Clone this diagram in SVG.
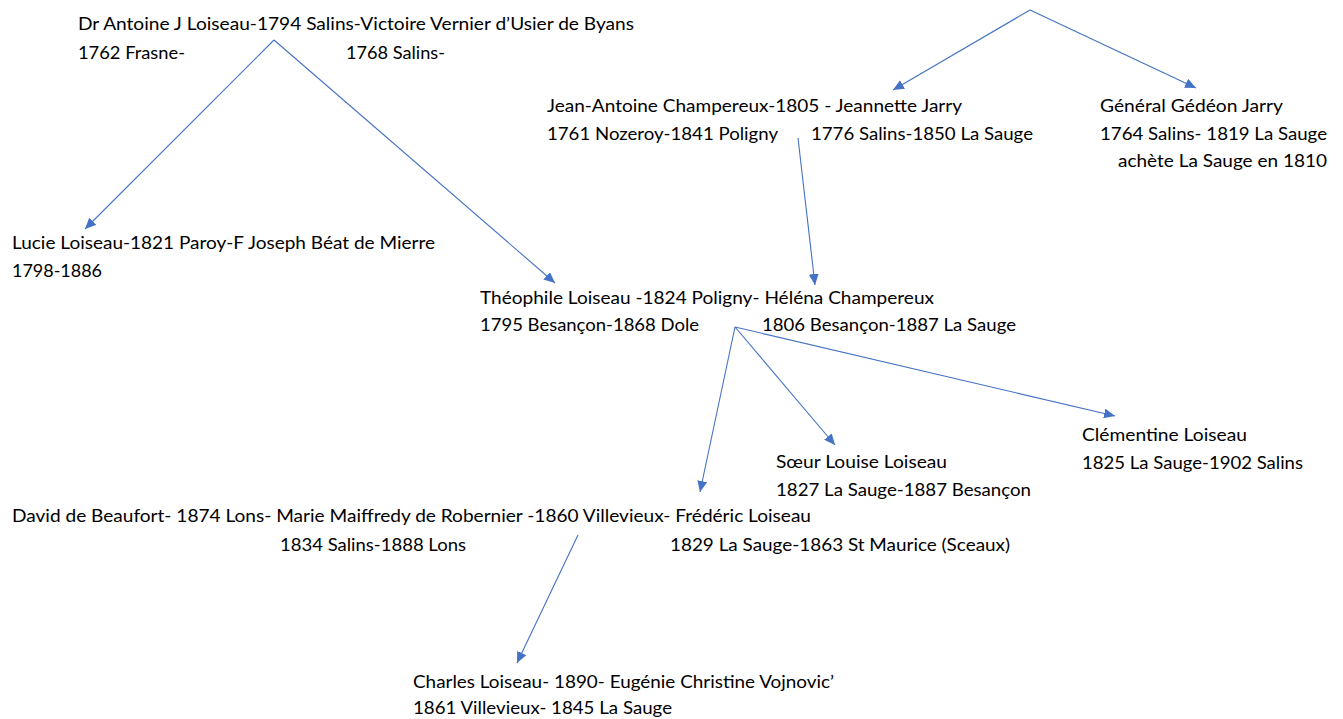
<svg xmlns="http://www.w3.org/2000/svg" width="1343" height="719" viewBox="0 0 1343 719">
<style>
text{font-family:"Lato","Liberation Sans",sans-serif;font-size:17px;fill:#000}
.c line{stroke:#4472C4;stroke-width:1.1;fill:none}
</style>
<defs>
<marker id="ah" markerUnits="userSpaceOnUse" markerWidth="12" markerHeight="10" refX="11" refY="5" orient="auto">
<path d="M0,0 L11,5 L0,10 Z" fill="#4472C4"/>
</marker>
</defs>
<rect width="1343" height="719" fill="#fff"/>
<g class="c">
<line x1="274" y1="40" x2="85" y2="229" marker-end="url(#ah)"/>
<line x1="274" y1="40" x2="555" y2="283" marker-end="url(#ah)"/>
<line x1="1030" y1="10" x2="893" y2="90" marker-end="url(#ah)"/>
<line x1="1030" y1="10" x2="1196" y2="88" marker-end="url(#ah)"/>
<line x1="798" y1="138" x2="815" y2="285" marker-end="url(#ah)"/>
<line x1="735" y1="327" x2="700" y2="492" marker-end="url(#ah)"/>
<line x1="735" y1="327" x2="835" y2="445" marker-end="url(#ah)"/>
<line x1="735" y1="327" x2="1115" y2="416" marker-end="url(#ah)"/>
<line x1="578" y1="535" x2="517" y2="663" marker-end="url(#ah)"/>
</g>
<g id="n-antoine">
<text x="78" y="30" textLength="556" lengthAdjust="spacingAndGlyphs">Dr Antoine J Loiseau-1794 Salins-Victoire Vernier d’Usier de Byans</text>
<text x="78" y="59" textLength="107" lengthAdjust="spacingAndGlyphs">1762 Frasne-</text>
<text x="346" y="59" textLength="99" lengthAdjust="spacingAndGlyphs">1768 Salins-</text>
</g>
<g id="n-champereux">
<text x="547" y="112" textLength="415" lengthAdjust="spacingAndGlyphs">Jean-Antoine Champereux-1805 - Jeannette Jarry</text>
<text x="547" y="140" textLength="231" lengthAdjust="spacingAndGlyphs">1761 Nozeroy-1841 Poligny</text>
<text x="811" y="140" textLength="222" lengthAdjust="spacingAndGlyphs">1776 Salins-1850 La Sauge</text>
</g>
<g id="n-gedeon">
<text x="1100" y="112" textLength="183" lengthAdjust="spacingAndGlyphs">Général Gédéon Jarry</text>
<text x="1100" y="140" textLength="227" lengthAdjust="spacingAndGlyphs">1764 Salins- 1819 La Sauge</text>
<text x="1118" y="167" textLength="209" lengthAdjust="spacingAndGlyphs">achète La Sauge en 1810</text>
</g>
<g id="n-lucie">
<text x="12" y="249" textLength="423" lengthAdjust="spacingAndGlyphs">Lucie Loiseau-1821 Paroy-F Joseph Béat de Mierre</text>
<text x="12" y="277" textLength="90" lengthAdjust="spacingAndGlyphs">1798-1886</text>
</g>
<g id="n-theophile">
<text x="480" y="304" textLength="454" lengthAdjust="spacingAndGlyphs">Théophile Loiseau -1824 Poligny- Héléna Champereux</text>
<text x="480" y="331" textLength="219" lengthAdjust="spacingAndGlyphs">1795 Besançon-1868 Dole</text>
<text x="762" y="331" textLength="254" lengthAdjust="spacingAndGlyphs">1806 Besançon-1887 La Sauge</text>
</g>
<g id="n-clementine">
<text x="1082" y="441" textLength="165" lengthAdjust="spacingAndGlyphs">Clémentine Loiseau</text>
<text x="1082" y="469" textLength="221" lengthAdjust="spacingAndGlyphs">1825 La Sauge-1902 Salins</text>
</g>
<g id="n-louise">
<text x="776" y="468" textLength="171" lengthAdjust="spacingAndGlyphs">Sœur Louise Loiseau</text>
<text x="776" y="496" textLength="255" lengthAdjust="spacingAndGlyphs">1827 La Sauge-1887 Besançon</text>
</g>
<g id="n-frederic">
<text x="12" y="522" textLength="799" lengthAdjust="spacingAndGlyphs">David de Beaufort- 1874 Lons- Marie Maiffredy de Robernier -1860 Villevieux- Frédéric Loiseau</text>
<text x="280" y="551" textLength="186" lengthAdjust="spacingAndGlyphs">1834 Salins-1888 Lons</text>
<text x="670" y="551" textLength="340" lengthAdjust="spacingAndGlyphs">1829 La Sauge-1863 St Maurice (Sceaux)</text>
</g>
<g id="n-charles">
<text x="413" y="688" textLength="421" lengthAdjust="spacingAndGlyphs">Charles Loiseau- 1890- Eugénie Christine Vojnovic’</text>
<text x="413" y="714" textLength="259" lengthAdjust="spacingAndGlyphs">1861 Villevieux- 1845 La Sauge</text>
</g>
</svg>
